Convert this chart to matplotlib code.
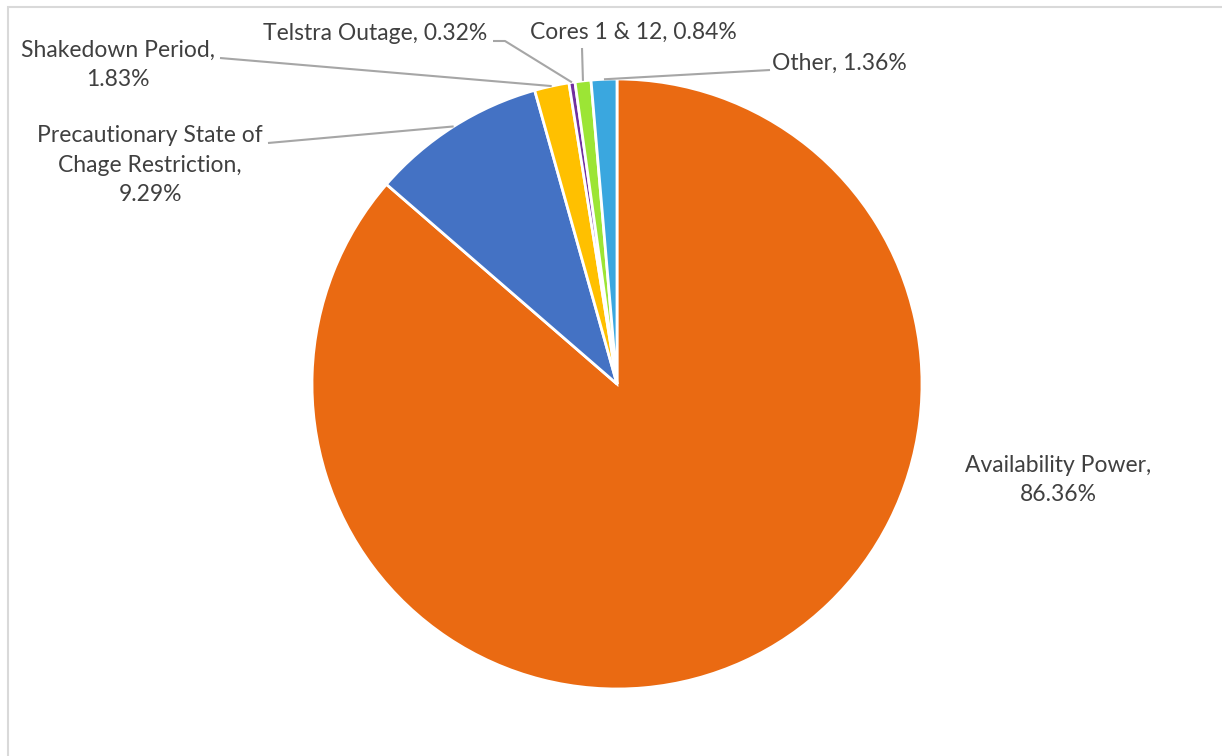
import matplotlib.pyplot as plt
import numpy as np
from matplotlib.patches import Rectangle

categories = ["Availability Power", "Precautionary State of\nChage Restriction",
              "Shakedown Period", "Telstra Outage", "Cores 1 & 12", "Other"]
shares = [86.36, 9.29, 1.83, 0.32, 0.84, 1.36]
separators = [",\n", ",\n", ",\n", ", ", ", ", ", "]
colors = ["#EA6A12", "#4472C4", "#FFC000", "#7030A0", "#9CE535", "#3AA7DF"]

W, H = 1222, 756
fig = plt.figure(figsize=(W / 100, H / 100), dpi=100)
ax = fig.add_axes([0, 0, 1, 1])

def yy(y):
    # pixel row (top-down) -> data y (bottom-up)
    return H - y

cx, cy, r = 617, yy(384), 305
wedges, _ = ax.pie(shares, colors=colors, startangle=90, counterclock=False,
                   center=(cx, cy), radius=r,
                   wedgeprops=dict(edgecolor="white", linewidth=2))
ax.set_xlim(0, W)
ax.set_ylim(0, H)
ax.set_aspect("equal")
ax.axis("off")

def mid_point(w):
    a = np.deg2rad((w.theta1 + w.theta2) / 2)
    return w.center[0] + w.r * np.cos(a), w.center[1] + w.r * np.sin(a)

# label layout: text center, leader path start points (pixel coords, y down)
text_pos = [(1058, 480), (150, 165), (118, 65), (375, 33), (633, 32), (839, 63)]
leaders = [None, [(268, 143)], [(220, 58)], [(493, 41), (505, 41)],
           [(582, 48)], [(770, 70)]]

txt_color = "#404040"
for i, (cat, val, sep) in enumerate(zip(categories, shares, separators)):
    label = f"{cat}{sep}{val:.2f}%"
    tx, ty = text_pos[i]
    ax.text(tx, yy(ty), label, ha="center", va="center", fontsize=16.5,
            family="Lato", color=txt_color, linespacing=1.5)
    if leaders[i]:
        mx, my = mid_point(wedges[i])
        xs = [p[0] for p in leaders[i]] + [mx]
        ys = [yy(p[1]) for p in leaders[i]] + [my]
        ax.plot(xs, ys, color="#A6A6A6", linewidth=1.5, solid_capstyle="butt")

# chart area border (right and bottom sides are cropped in the original)
fig.patches.append(Rectangle((8, -10), W, H - 7 + 10, transform=None,
                             fill=False, edgecolor="#D9D9D9", linewidth=1.5))

fig.savefig("out.png", dpi=100)
